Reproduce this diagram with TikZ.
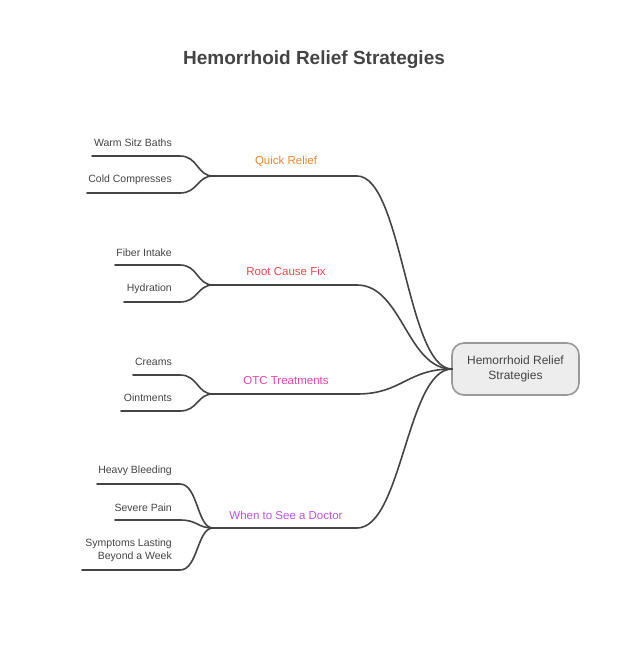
\documentclass[tikz,border=0pt]{standalone}
\usepackage{fontspec}
\setmainfont{Liberation Sans}
\definecolor{txt}{HTML}{444444}
\definecolor{ln}{HTML}{444444}
\definecolor{cQuick}{HTML}{E8862E}
\definecolor{cRoot}{HTML}{E5484D}
\definecolor{cOTC}{HTML}{E645A8}
\definecolor{cDoc}{HTML}{C04EE8}
\begin{document}
\begin{tikzpicture}[x=1pt,y=-1pt,
  leaf/.style={anchor=east,inner sep=0pt,text=txt,font=\fontsize{10.5}{13}\selectfont,align=right},
  blabel/.style={inner sep=0pt,font=\fontsize{11.5}{14}\selectfont},
  conn/.style={draw=ln,line width=1.6pt,line cap=round},
  centerbox/.style={draw=black!40,fill=black!7,line width=1.6pt,rounded corners=12pt,minimum width=127pt,minimum height=52pt,align=center,text=txt,font=\fontsize{12}{15.5}\selectfont}]
\useasboundingbox (0,0) rectangle (628,654);
\node[font=\fontsize{19}{23}\selectfont\bfseries,text=txt] (title) at (314,60) {Hemorrhoid Relief Strategies};
\node[centerbox] (root) at (515.5,369) {Hemorrhoid Relief\\Strategies};
\coordinate (rin) at (452,369);
% branch joints
\foreach \n/\y in {q/176,r/285,o/394,d/528}{
  \coordinate (\n J) at (213,\y);
  \coordinate (\n E) at (357,\y);
}
% branch labels
\node[blabel,text=cQuick] (lq) at (286,161) {Quick Relief};
\node[blabel,text=cRoot] (lr) at (286,271) {Root Cause Fix};
\node[blabel,text=cOTC] (lo) at (286,381) {OTC Treatments};
\node[blabel,text=cDoc] (ld) at (286,515) {When to See a Doctor};
% leaves
\node[leaf] (l1) at (172,143) {Warm Sitz Baths};
\node[leaf] (l2) at (172,180) {Cold Compresses};
\node[leaf] (l3) at (172,253) {Fiber Intake};
\node[leaf] (l4) at (172,289) {Hydration};
\node[leaf] (l5) at (172,362) {Creams};
\node[leaf] (l6) at (172,398) {Ointments};
\node[leaf] (l7) at (172,471) {Heavy Bleeding};
\node[leaf] (l8) at (172,508) {Severe Pain};
\node[leaf] (l9) at (172,550.5) {Symptoms Lasting\\Beyond a Week};
\foreach \i/\xs/\y in {1/92/156,2/87/193,3/115/265,4/124/302,5/133/375,6/121/411,7/97/484,8/115/520,9/82/570}{
  \coordinate (s\i) at (\xs,\y);
  \coordinate (t\i) at (180,\y);
}
% leaf connectors
\foreach \i/\j in {1/q,2/q,3/r,4/r,5/o,6/o,7/d,8/d,9/d}{
  \draw[conn] (s\i) -- (t\i) .. controls ([xshift=18pt]t\i) and ([xshift=-16pt]\j J) .. (\j J);
}
% branch connectors
\foreach \j in {q,r,o,d}{
  \draw[conn] (\j J) -- (\j E) .. controls ([xshift=45pt]\j E) and ([xshift=-45pt]rin) .. (rin);
}
\end{tikzpicture}
\end{document}
